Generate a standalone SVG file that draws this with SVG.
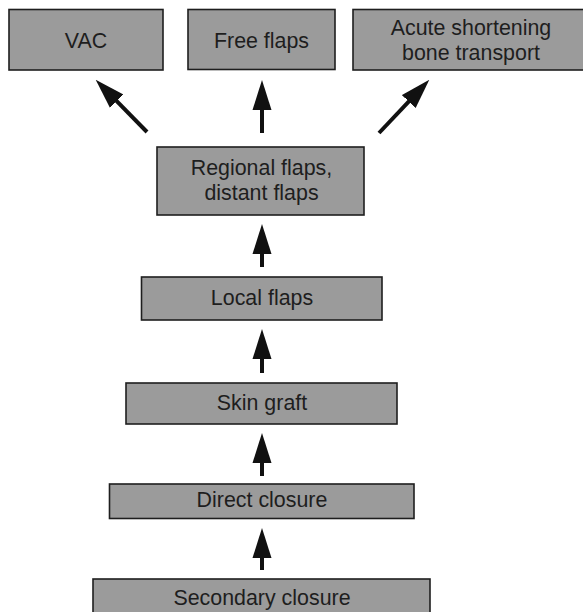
<svg xmlns="http://www.w3.org/2000/svg" width="583" height="612" viewBox="0 0 583 612">
<style>
.box{fill:#9b9b9b;stroke:#1e1e1e;stroke-width:1.6}
.lbl{font-family:"Liberation Sans",Arial,sans-serif;font-size:21.4px;fill:#1e1e1e;text-anchor:middle}
.shaft{stroke:#111;stroke-width:4;fill:none;marker-end:url(#ah)}
</style>
<defs>
<marker id="ah" markerUnits="userSpaceOnUse" viewBox="0 0 30 20" markerWidth="30" markerHeight="20" refX="1" refY="10" orient="auto">
<path d="M0,0.5 L30,10 L0,19.5 z" fill="#111"/>
</marker>
</defs>
<rect width="583" height="612" fill="#fff"/>
<g id="vac"><rect class="box" x="9" y="9.5" width="154" height="60.5"/><text class="lbl" x="86" y="47.5">VAC</text></g>
<g id="free-flaps"><rect class="box" x="188" y="9.5" width="147" height="60"/><text class="lbl" x="261.5" y="47.5">Free flaps</text></g>
<g id="acute"><rect class="box" x="353" y="9.5" width="232" height="60.5"/><text class="lbl" x="471" y="35">Acute shortening</text><text class="lbl" x="471" y="59.5">bone transport</text></g>
<g id="regional"><rect class="box" x="157" y="147" width="207" height="68"/><text class="lbl" x="261.5" y="175">Regional flaps,</text><text class="lbl" x="261.5" y="200">distant flaps</text></g>
<g id="local"><rect class="box" x="141.5" y="277" width="240.5" height="43"/><text class="lbl" x="262" y="305">Local flaps</text></g>
<g id="skin"><rect class="box" x="126" y="383" width="271" height="41"/><text class="lbl" x="262" y="410">Skin graft</text></g>
<g id="direct"><rect class="box" x="109.5" y="484" width="304.5" height="34.5"/><text class="lbl" x="262" y="507">Direct closure</text></g>
<g id="secondary"><rect class="box" x="93" y="579" width="337" height="40"/><text class="lbl" x="262" y="605">Secondary closure</text></g>
<g id="connectors">
<path class="shaft" d="M147,132 L116,100.4"/>
<path class="shaft" d="M262,133 L262,109"/>
<path class="shaft" d="M379,133 L409.4,100.8"/>
<path class="shaft" d="M262,267 L262,253"/>
<path class="shaft" d="M262,373 L262,358"/>
<path class="shaft" d="M262,476 L262,462"/>
<path class="shaft" d="M262,570 L262,557"/>
</g>
</svg>
